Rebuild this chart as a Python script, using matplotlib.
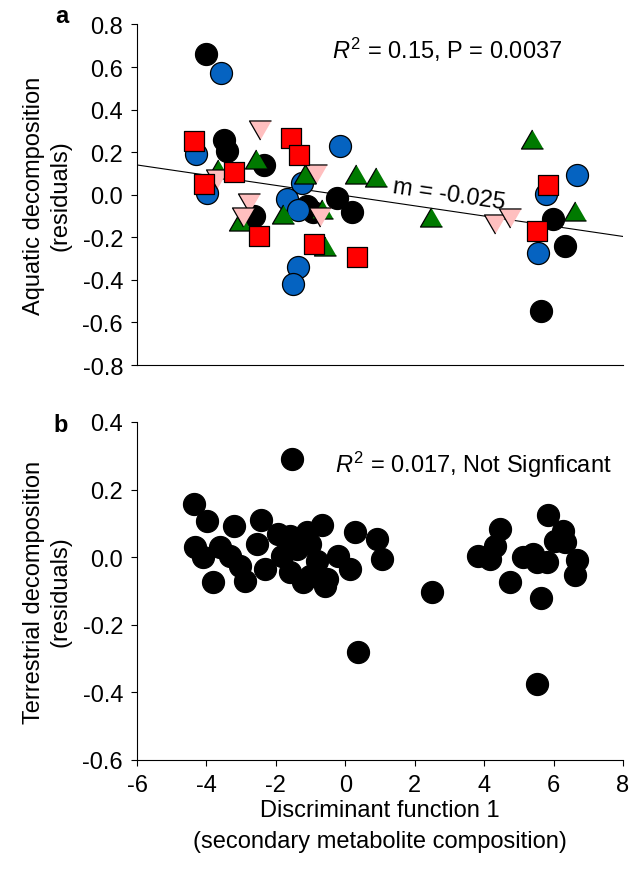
import numpy as np
import matplotlib
matplotlib.use('Agg')
import matplotlib.pyplot as plt

plt.rcParams['font.family'] = ['Liberation Sans', 'DejaVu Sans']
plt.rcParams['mathtext.fontset'] = 'custom'
plt.rcParams['mathtext.it'] = 'Liberation Sans:italic'
plt.rcParams['mathtext.rm'] = 'Liberation Sans'
plt.rcParams['axes.unicode_minus'] = False

# panel a: aquatic decomposition residuals, one group per marker type
black_x = [-4.0, -3.49, -3.41, -2.34, -1.10, -0.24, 0.19, -0.93, -2.63, 5.99, 6.33, 5.64]
black_y = [0.66, 0.257, 0.206, 0.140, -0.053, -0.015, -0.081, -0.081, -0.100, -0.114, -0.241, -0.546]

blue_x = [-3.58, -4.30, -3.98, -0.15, -1.25, -1.68, -1.36, -1.36, -1.51, 6.68, 5.78, 5.55]
blue_y = [0.572, 0.191, 0.008, 0.229, 0.055, -0.020, -0.072, -0.340, -0.420, 0.093, 0.004, -0.274]

green_x = [-2.57, -3.67, 0.31, 0.89, -1.16, -0.67, -1.79, -3.03, -0.58, 5.38, 6.62, 2.47]
green_y = [0.168, 0.121, 0.097, 0.083, 0.097, -0.067, -0.090, -0.123, -0.240, 0.262, -0.076, -0.105]

pink_x = [-2.46, -3.70, -0.84, -2.77, -2.95, -0.73, 4.31, 4.75]
pink_y = [0.304, 0.074, 0.097, -0.039, -0.105, -0.105, -0.137, -0.109]

red_x = [-4.36, -1.56, -1.33, -3.21, -4.07, -2.49, -0.90, 0.34, 5.84, 5.52]
red_y = [0.253, 0.267, 0.187, 0.107, 0.050, -0.194, -0.231, -0.293, 0.046, -0.170]

slope = -0.024
intercept = -0.004

# panel b: terrestrial decomposition residuals
terr_x = [-1.53, -4.36, -3.98, -3.21, -2.43, -4.33, -0.67, -1.10, 0.28, 0.91, 1.06,
          -1.94, -1.59, -3.61, -2.54, -3.81, -2.89, -2.31, -4.10, -3.32, -3.03,
          -1.82, -1.39, -1.02, -0.21, 0.14, -1.02, -0.53, -0.58, -1.22, -1.59, -0.82,
          5.84, 4.46, 4.31, 3.82, 4.17, 5.12, 5.41, 5.81, 5.52, 6.27, 6.04, 6.33,
          6.68, 6.62, 4.75, 5.64, 2.50, 5.52, 0.37]
terr_y = [0.291, 0.157, 0.107, 0.092, 0.110, 0.030, 0.096, 0.075, 0.075, 0.054, -0.006,
          0.069, 0.063, 0.030, 0.039, -0.073, -0.070, -0.035, 0.000, 0.004, -0.026,
          0.004, 0.024, 0.039, 0.004, -0.035, -0.056, -0.064, -0.085, -0.073, -0.044, -0.011,
          0.125, 0.083, 0.033, 0.004, -0.005, 0.000, 0.009, -0.014, -0.014, 0.078, 0.048, 0.045,
          -0.008, -0.053, -0.073, -0.121, -0.104, -0.375, -0.280]

a_yticks = [-0.8, -0.6, -0.4, -0.2, 0.0, 0.2, 0.4, 0.6, 0.8]
b_yticks = [-0.6, -0.4, -0.2, 0.0, 0.2, 0.4]
xticks = [-6, -4, -2, 0, 2, 4, 6, 8]

tri_up = [(0, 0.433), (-0.5, -0.433), (0.5, -0.433)]
tri_down = [(0, -0.433), (-0.5, 0.433), (0.5, 0.433)]

fig = plt.figure(figsize=(6.34, 8.7), dpi=100)
ax_a = fig.add_axes([0.2161, 0.5793, 0.7666, 0.3914])
ax_b = fig.add_axes([0.2161, 0.1253, 0.7666, 0.3885])

fs = 17
ew = 0.9

# panel a
ax_a.plot([-6, 8], [intercept + slope * -6, intercept + slope * 8], color='black', lw=0.8, zorder=1)
ax_a.scatter(black_x, black_y, s=251, marker='o', c='black', edgecolors='black', linewidths=ew, zorder=2)
ax_a.scatter(blue_x, blue_y, s=251, marker='o', c='#0563C1', edgecolors='black', linewidths=ew, zorder=3)
ax_a.scatter(green_x, green_y, s=251, marker=tri_up, c='#007A00', edgecolors='black', linewidths=ew, zorder=4)
ax_a.scatter(pink_x, pink_y, s=251, marker=tri_down, c='#FFBFBF', edgecolors='black', linewidths=ew, zorder=5)
ax_a.scatter(red_x, red_y, s=207, marker='s', c='#FF0000', edgecolors='black', linewidths=ew, zorder=6)

ax_a.set_xlim(-6, 8)
ax_a.set_ylim(-0.8, 0.8)
ax_a.set_yticks(a_yticks)
ax_a.set_yticklabels(['%.1f' % v for v in a_yticks])
ax_a.set_xticks([])
ax_a.set_ylabel('Aquatic decomposition\n(residuals)', fontsize=fs, labelpad=8, linespacing=1.25)
ax_a.text(-0.38, 0.685, r'$R^2$ = 0.15, P = 0.0037', fontsize=fs, va='center', ha='left')
ax_a.text(3.0, 0.004, 'm = -0.025', fontsize=fs, rotation=-8.3, rotation_mode='anchor',
          ha='center', va='center', zorder=7)
ax_a.text(-0.154, 1.025, 'a', transform=ax_a.transAxes, fontsize=fs, fontweight='bold',
          ha='center', va='center')

# panel b
ax_b.scatter(terr_x, terr_y, s=251, marker='o', c='black', edgecolors='black', linewidths=ew, zorder=2)
ax_b.set_xlim(-6, 8)
ax_b.set_ylim(-0.6, 0.4)
ax_b.set_xticks(xticks)
ax_b.set_yticks(b_yticks)
ax_b.set_yticklabels(['%.1f' % v for v in b_yticks])
ax_b.set_ylabel('Terrestrial decomposition\n(residuals)', fontsize=fs, labelpad=8, linespacing=1.25)
ax_b.set_xlabel('Discriminant function 1\n(secondary metabolite composition)', fontsize=fs,
                labelpad=2, linespacing=1.55)
ax_b.text(-0.30, 0.276, r'$R^2$ = 0.017, Not Signficant', fontsize=fs, va='center', ha='left')
ax_b.text(-0.158, 0.994, 'b', transform=ax_b.transAxes, fontsize=fs, fontweight='bold',
          ha='center', va='center')

for ax in (ax_a, ax_b):
    ax.spines['top'].set_visible(False)
    ax.spines['right'].set_visible(False)
    ax.spines['left'].set_linewidth(0.8)
    ax.spines['bottom'].set_linewidth(0.8)
    ax.tick_params(direction='out', length=4, width=0.8, labelsize=fs, pad=6)

plt.savefig('out.png', dpi=100)
